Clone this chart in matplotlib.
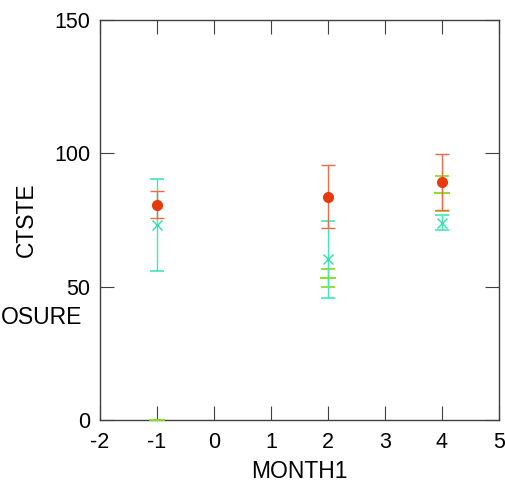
import matplotlib.pyplot as plt
import numpy as np

plt.rcParams['font.family'] = ['Liberation Sans', 'DejaVu Sans']
plt.rcParams['axes.unicode_minus'] = False

month = [-1, 2, 4]

red_val = [80.8, 83.7, 89.2]
red_err = [5.0, 11.8, 10.4]

teal_val = [73.1, 60.2, 74.0]
teal_err = [17.2, 14.4, 2.9]

green_val = [0.0, 53.2, 85.0]
green_err = [0.0, 3.3, 6.5]

fig = plt.figure(figsize=(5.06, 4.82), dpi=100)
ax = fig.add_axes([100/506, 62/482, 399/506, 400/482])

ax.errorbar(month, green_val, yerr=green_err, fmt='_', color='#7fe010',
            ecolor='#8be020', capsize=5, markersize=11, markeredgewidth=1.3,
            elinewidth=1, capthick=1, clip_on=False, zorder=3)
ax.errorbar(month, teal_val, yerr=teal_err, fmt='x', color='#30e0a8',
            ecolor='#40e8b8', capsize=5, markersize=7, elinewidth=1, capthick=1.2,
            zorder=3)
ax.errorbar(month, red_val, yerr=red_err, fmt='o', color='#e63a0c',
            ecolor='#ee6a48', capsize=5, markersize=7, elinewidth=1, capthick=1,
            zorder=4)

ax.set_xlim(-2, 5)
ax.set_ylim(0, 150)
ax.set_xticks(np.arange(-2, 6, 1))
ax.set_yticks([0, 50, 100, 150])
ax.tick_params(direction='in', length=10, top=True, right=True, labelsize=15.5,
               color='#404040', pad=7)
ax.tick_params(axis='x', labeltop=False, pad=9)
ax.tick_params(axis='y', labelright=False)
for s in ax.spines.values():
    s.set_color('#404040')
    s.set_linewidth(1)

ax.set_xlabel('MONTH1', fontsize=16.5, labelpad=5)
fig.text(26/506, 1 - 220/482, 'CTSTE', rotation=90, fontsize=16.5,
         ha='center', va='center')
fig.text(0.5/506, 1 - 318/482, 'OSURE', fontsize=16.5, ha='left', va='center')

fig.savefig('out.png', dpi=100)
